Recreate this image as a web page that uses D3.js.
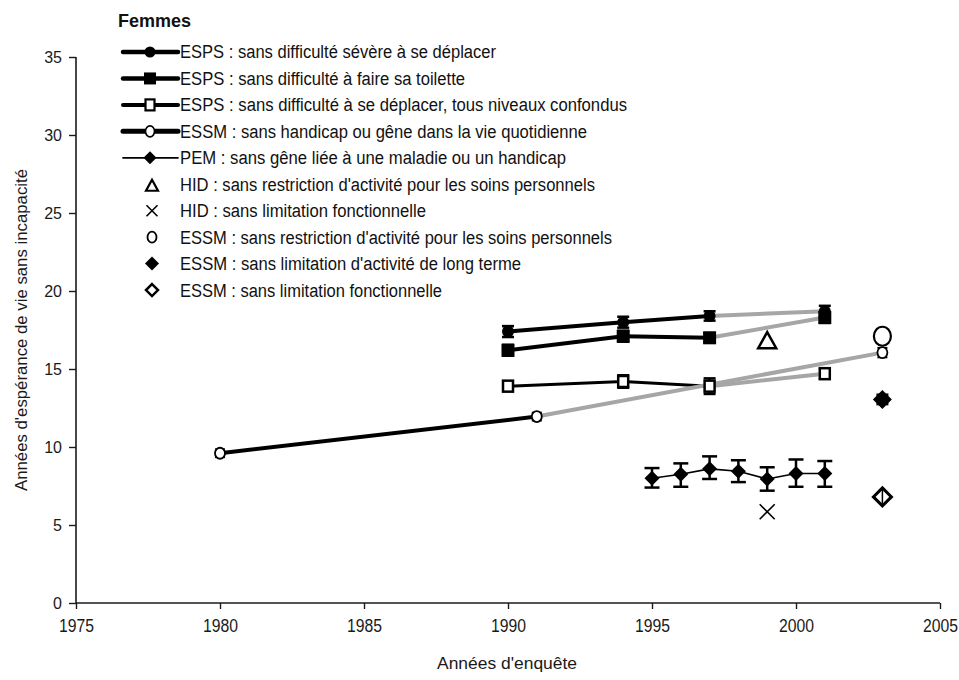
<!DOCTYPE html>
<html>
<head>
<meta charset="utf-8">
<script src="https://cdn.jsdelivr.net/npm/d3@7"></script>
<style>
  html, body { margin: 0; padding: 0; background: #fff; }
  svg { display: block; }
  text { font-family: "Liberation Sans", Arial, sans-serif; }
</style>
</head>
<body>
<svg id="chart" width="959" height="680"></svg>
<script>
// ---------- DATA ----------
const xTicks = [1975, 1980, 1985, 1990, 1995, 2000, 2005];
const yTicks = [0, 5, 10, 15, 20, 25, 30, 35];

const espsYears = [1990, 1994, 1997, 2001];
const espsSevereVals = [17.4, 18.0, 18.4, 18.7];
const espsSevereErr = [0.35, 0.35, 0.3, 0.35];
const espsToiletteVals = [16.2, 17.1, 17.0, 18.3];
const espsToiletteErr = [0.35, 0.35, 0.3, 0.35];
const espsTousVals = [13.9, 14.2, 13.9, 14.7];
const espsTousErr = [0.3, 0.4, 0.5, 0.3];

const essmHandicapYears = [1980, 1991, 2003];
const essmHandicapVals = [9.6, 11.95, 16.05];
const essmHandicapErr = [0.25, 0.25, 0.3];

const pemYears = [1995, 1996, 1997, 1998, 1999, 2000, 2001];
const pemVals = [8.0, 8.25, 8.6, 8.45, 7.95, 8.3, 8.3];
const pemLow = [7.4, 7.45, 7.95, 7.75, 7.2, 7.45, 7.45];
const pemHigh = [8.65, 8.95, 9.4, 9.15, 8.7, 9.2, 9.1];

const hidSoinsYear = 1999, hidSoinsVal = 16.85;
const hidFonctYear = 1999, hidFonctVal = 5.85;
const essmSoinsYear = 2003, essmSoinsVal = 17.1;
const essmLongYear = 2003, essmLongVal = 13.05, essmLongErr = 0.3;
const essmFonctYear = 2003, essmFonctVal = 6.8;

const legendTitle = "Femmes";
const legendLabels = [
  "ESPS : sans difficulté sévère à se déplacer",
  "ESPS : sans difficulté à faire sa toilette",
  "ESPS : sans difficulté à se déplacer, tous niveaux confondus",
  "ESSM : sans handicap ou gêne dans la vie quotidienne",
  "PEM : sans gêne liée à une maladie ou un handicap",
  "HID : sans restriction d'activité pour les soins personnels",
  "HID : sans limitation fonctionnelle",
  "ESSM : sans restriction d'activité pour les soins personnels",
  "ESSM : sans limitation d'activité de long terme",
  "ESSM : sans limitation fonctionnelle"
];
const xTitle = "Années d'enquête";
const yTitle = "Années d'espérance de vie sans incapacité";

// ---------- LAYOUT (measured widths of the narrow typeface) ----------
const legendTextEnds = [496, 465, 627, 587, 566, 595, 426, 612, 521, 442];

// ---------- CHART ----------
const svg = d3.select("#chart");
const GREY = "#a6a6a6";
const INK = "#1a1a1a";
const x = d3.scaleLinear().domain([1975, 2005]).range([76, 940]);
const y = d3.scaleLinear().domain([0, 35]).range([603, 57]);

function narrow(sel, w) {
  sel.attr("textLength", w).attr("lengthAdjust", "spacingAndGlyphs");
}

// axes
const yAxis = d3.axisLeft(y).tickValues(yTicks).tickSize(7).tickPadding(7).tickFormat(d3.format("d"));
const gy = svg.append("g").attr("transform", `translate(${x(1975)},0)`).call(yAxis);
const xAxis = d3.axisBottom(x).tickValues(xTicks).tickSize(6).tickPadding(10).tickFormat(d3.format("d"));
const gx = svg.append("g").attr("transform", `translate(0,${y(0)})`).call(xAxis);
[gx, gy].forEach(g => {
  g.attr("font-family", null).attr("font-size", null);
  g.select(".domain").attr("stroke", INK).attr("stroke-width", 1.6);
  g.selectAll(".tick line").attr("stroke", INK).attr("stroke-width", 1.4);
  g.selectAll(".tick text").attr("fill", INK);
});
gy.selectAll(".tick text").style("font-size", "16px");
gx.selectAll(".tick text").style("font-size", "18px").call(narrow, 35);
gy.select(".domain").attr("d", `M0,${y(35)}V${y(0)}`);
gx.select(".domain").attr("d", `M${x(1975)},0H${x(2005)}`);

// titles
svg.append("text").attr("x", 507).attr("y", 669)
  .attr("text-anchor", "middle").style("font-size", "17px").attr("fill", INK).text(xTitle).call(narrow, 140);
svg.append("text")
  .attr("transform", "translate(27,330) rotate(-90)")
  .attr("text-anchor", "middle").style("font-size", "17px").attr("fill", INK).text(yTitle).call(narrow, 322);

// marker paths
function diamondPath(s) { const h = s / 2; return `M0,${-h}L${h},0L0,${h}L${-h},0Z`; }
function trianglePath(w, h) { return `M0,${-h / 2}L${w / 2},${h / 2}L${-w / 2},${h / 2}Z`; }
function crossPath(s) { const h = s / 2; return `M${-h},${-h}L${h},${h}M${h},${-h}L${-h},${h}`; }

const lineLayer = svg.append("g");
const errLayer = svg.append("g");
const markLayer = svg.append("g");

function drawSegments(years, vals, blackWidth, greyFrom) {
  for (let i = 0; i < years.length - 1; i++) {
    const grey = i >= greyFrom;
    lineLayer.append("line")
      .attr("x1", x(years[i])).attr("y1", y(vals[i]))
      .attr("x2", x(years[i + 1])).attr("y2", y(vals[i + 1]))
      .attr("stroke", grey ? GREY : "#000")
      .attr("stroke-width", grey ? 4 : blackWidth)
      .attr("stroke-linecap", "round");
  }
}
function drawErr(xv, lo, hi, capW, sw) {
  const g = errLayer.append("g").attr("stroke", "#000").attr("stroke-width", sw);
  g.append("line").attr("x1", x(xv)).attr("x2", x(xv)).attr("y1", y(lo)).attr("y2", y(hi));
  g.append("line").attr("x1", x(xv) - capW / 2).attr("x2", x(xv) + capW / 2).attr("y1", y(lo)).attr("y2", y(lo));
  g.append("line").attr("x1", x(xv) - capW / 2).attr("x2", x(xv) + capW / 2).attr("y1", y(hi)).attr("y2", y(hi));
}

drawSegments(espsYears, espsSevereVals, 4, 2);
drawSegments(espsYears, espsToiletteVals, 4, 2);
drawSegments(espsYears, espsTousVals, 3, 2);
drawSegments(essmHandicapYears, essmHandicapVals, 4, 1);
drawSegments(pemYears, pemVals, 1.6, 99);

espsYears.forEach((yr, i) => {
  drawErr(yr, espsSevereVals[i] - espsSevereErr[i], espsSevereVals[i] + espsSevereErr[i], 12, 2.5);
  drawErr(yr, espsToiletteVals[i] - espsToiletteErr[i], espsToiletteVals[i] + espsToiletteErr[i], 12, 2.5);
  drawErr(yr, espsTousVals[i] - espsTousErr[i], espsTousVals[i] + espsTousErr[i], 12, 2.5);
});
essmHandicapYears.forEach((yr, i) => {
  drawErr(yr, essmHandicapVals[i] - essmHandicapErr[i], essmHandicapVals[i] + essmHandicapErr[i], 10, 2);
});
pemYears.forEach((yr, i) => drawErr(yr, pemLow[i], pemHigh[i], 15, 2.5));
drawErr(essmLongYear, essmLongVal - essmLongErr, essmLongVal + essmLongErr, 12, 2.5);

// markers
espsYears.forEach((yr, i) => {
  markLayer.append("circle").attr("cx", x(yr)).attr("cy", y(espsSevereVals[i])).attr("r", 6).attr("fill", "#000");
  markLayer.append("rect").attr("x", x(yr) - 6.5).attr("y", y(espsToiletteVals[i]) - 6.5)
    .attr("width", 13).attr("height", 13).attr("fill", "#000");
  markLayer.append("rect").attr("x", x(yr) - 5).attr("y", y(espsTousVals[i]) - 5.5)
    .attr("width", 10).attr("height", 11).attr("fill", "#fff").attr("stroke", "#000").attr("stroke-width", 2.5);
});
essmHandicapYears.forEach((yr, i) => {
  markLayer.append("ellipse").attr("cx", x(yr)).attr("cy", y(essmHandicapVals[i])).attr("rx", 5).attr("ry", 5.5)
    .attr("fill", "#fff").attr("stroke", "#000").attr("stroke-width", 1.8);
});
pemYears.forEach((yr, i) => {
  markLayer.append("path").attr("transform", `translate(${x(yr)},${y(pemVals[i])})`)
    .attr("d", diamondPath(15)).attr("fill", "#000");
});
markLayer.append("path").attr("transform", `translate(${x(hidSoinsYear)},${y(hidSoinsVal)})`)
  .attr("d", trianglePath(18, 16)).attr("fill", "#fff").attr("stroke", "#000").attr("stroke-width", 2.5);
markLayer.append("path").attr("transform", `translate(${x(hidFonctYear)},${y(hidFonctVal)})`)
  .attr("d", crossPath(15)).attr("fill", "none").attr("stroke", "#000").attr("stroke-width", 1.6);
markLayer.append("ellipse").attr("cx", x(essmSoinsYear)).attr("cy", y(essmSoinsVal)).attr("rx", 8.5).attr("ry", 9.5)
  .attr("fill", "#fff").attr("stroke", "#000").attr("stroke-width", 2.2);
markLayer.append("path").attr("transform", `translate(${x(essmLongYear)},${y(essmLongVal)})`)
  .attr("d", diamondPath(19)).attr("fill", "#000");
markLayer.append("path").attr("transform", `translate(${x(essmFonctYear)},${y(essmFonctVal)})`)
  .attr("d", diamondPath(18)).attr("fill", "#fff").attr("stroke", "#000").attr("stroke-width", 3);
markLayer.append("line").attr("x1", x(essmFonctYear)).attr("x2", x(essmFonctYear))
  .attr("y1", y(essmFonctVal) - 7).attr("y2", y(essmFonctVal) + 7).attr("stroke", "#000").attr("stroke-width", 1.5);

// ---------- LEGEND ----------
const leg = svg.append("g");
leg.append("text").attr("x", 118).attr("y", 27)
  .style("font-size", "17.5px").style("font-weight", "bold").attr("fill", "#111").text(legendTitle).call(narrow, 73);
const rowY0 = 52, rowStep = 26.45;
const sx = 150, textX = 180;
const legendLineW = [4.5, 4.5, 4, 5, 1.8];
legendLabels.forEach((lab, i) => {
  const ry = rowY0 + i * rowStep;
  const g = leg.append("g").attr("transform", `translate(0,${ry})`);
  if (i < 5) {
    g.append("line").attr("x1", 123).attr("x2", 178).attr("y1", 0).attr("y2", 0)
      .attr("stroke", "#000").attr("stroke-width", legendLineW[i]).attr("stroke-linecap", "round");
  }
  const m = g.append("g").attr("transform", `translate(${sx},0)`);
  if (i === 0) m.append("circle").attr("r", 5.5).attr("fill", "#000");
  if (i === 1) m.append("rect").attr("x", -6).attr("y", -6).attr("width", 12).attr("height", 12).attr("fill", "#000");
  if (i === 2) m.append("rect").attr("x", -4.5).attr("y", -5.5).attr("width", 9).attr("height", 11).attr("fill", "#fff").attr("stroke", "#000").attr("stroke-width", 2.2);
  if (i === 3) m.append("ellipse").attr("rx", 4.5).attr("ry", 5.5).attr("fill", "#fff").attr("stroke", "#000").attr("stroke-width", 1.6);
  if (i === 4) m.append("path").attr("d", diamondPath(13)).attr("fill", "#000");
  if (i === 5) m.append("path").attr("transform", "translate(2,1)").attr("d", trianglePath(12, 11)).attr("fill", "#fff").attr("stroke", "#000").attr("stroke-width", 2.2);
  if (i === 6) m.append("path").attr("transform", "translate(2,0)").attr("d", crossPath(11)).attr("fill", "none").attr("stroke", "#000").attr("stroke-width", 1.6);
  if (i === 7) m.append("ellipse").attr("transform", "translate(2,0)").attr("rx", 4.5).attr("ry", 5.5).attr("fill", "#fff").attr("stroke", "#000").attr("stroke-width", 1.8);
  if (i === 8) m.append("path").attr("transform", "translate(2,0)").attr("d", diamondPath(14)).attr("fill", "#000");
  if (i === 9) m.append("path").attr("transform", "translate(2,0)").attr("d", diamondPath(12)).attr("fill", "#fff").attr("stroke", "#000").attr("stroke-width", 2.5);
  g.append("text").attr("x", textX).attr("y", 0).attr("dy", "0.36em")
    .style("font-size", "18px").attr("fill", "#111").text(lab)
    .call(narrow, legendTextEnds[i] - textX);
});
</script>
</body>
</html>
